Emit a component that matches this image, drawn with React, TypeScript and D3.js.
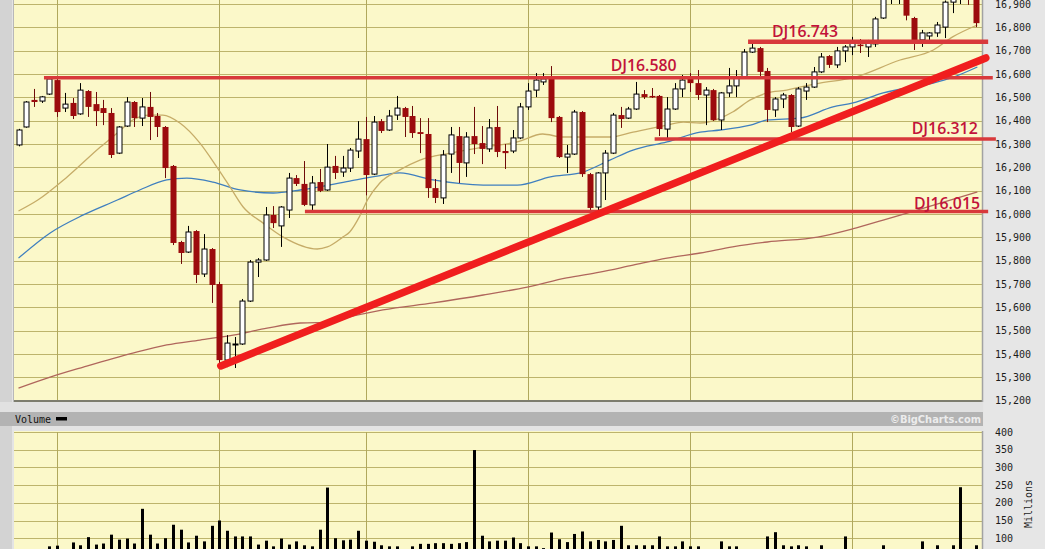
import React from "react";
import * as d3 from "d3";

const tradingDays = [
  "2013-12-24","2013-12-26","2013-12-27","2013-12-30","2013-12-31",
  "2014-01-02","2014-01-03","2014-01-06","2014-01-07","2014-01-08","2014-01-09","2014-01-10","2014-01-13","2014-01-14","2014-01-15","2014-01-16","2014-01-17","2014-01-21","2014-01-22","2014-01-23","2014-01-24","2014-01-27","2014-01-28","2014-01-29","2014-01-30","2014-01-31",
  "2014-02-03","2014-02-04","2014-02-05","2014-02-06","2014-02-07","2014-02-10","2014-02-11","2014-02-12","2014-02-13","2014-02-14","2014-02-18","2014-02-19","2014-02-20","2014-02-21","2014-02-24","2014-02-25","2014-02-26","2014-02-27","2014-02-28",
  "2014-03-03","2014-03-04","2014-03-05","2014-03-06","2014-03-07","2014-03-10","2014-03-11","2014-03-12","2014-03-13","2014-03-14","2014-03-17","2014-03-18","2014-03-19","2014-03-20","2014-03-21","2014-03-24","2014-03-25","2014-03-26","2014-03-27","2014-03-28","2014-03-31",
  "2014-04-01","2014-04-02","2014-04-03","2014-04-04","2014-04-07","2014-04-08","2014-04-09","2014-04-10","2014-04-11","2014-04-14","2014-04-15","2014-04-16","2014-04-17","2014-04-21","2014-04-22","2014-04-23","2014-04-24","2014-04-25","2014-04-28","2014-04-29","2014-04-30",
  "2014-05-01","2014-05-02","2014-05-05","2014-05-06","2014-05-07","2014-05-08","2014-05-09","2014-05-12","2014-05-13","2014-05-14","2014-05-15","2014-05-16","2014-05-19","2014-05-20","2014-05-21","2014-05-22","2014-05-23","2014-05-27","2014-05-28","2014-05-29","2014-05-30",
  "2014-06-02","2014-06-03","2014-06-04","2014-06-05","2014-06-06","2014-06-09","2014-06-10","2014-06-11","2014-06-12","2014-06-13","2014-06-16","2014-06-17","2014-06-18","2014-06-19","2014-06-20","2014-06-23","2014-06-24",
];

const openValues = [
  16296,16373,16489,16484,16514,
  16574,16454,16476,16429,16527,16471,16454,16433,16261,16377,16480,16411,16459,16420,16373,16206,15880,15837,15927,15743,15850,
  15700,15374,15439,15443,15627,15794,15803,15996,15949,16017,16154,16129,16039,16137,16103,16206,16180,16197,16270,
  16321,16171,16398,16360,16424,16454,16420,16351,16343,16111,16069,16257,16334,16219,16334,16304,16279,16373,16270,16270,16326,
  16459,16531,16566,16587,16416,16244,16257,16437,16171,16030,16176,16261,16424,16411,16450,16514,16506,16506,16364,16450,16536,
  16579,16561,16510,16531,16403,16519,16549,16583,16694,16711,16613,16446,16493,16510,16377,16527,16544,16609,16677,16639,16699,
  16716,16726,16716,16729,16840,16925,16943,16940,16840,16746,16763,16776,16801,16908,16925,16947,16940,
];
const highValues = [
  16365,16484,16536,16506,16587,
  16583,16519,16497,16561,16531,16523,16489,16454,16377,16501,16484,16497,16523,16433,16377,16210,15885,15949,15931,15914,15854,
  15709,15481,15473,15636,15803,15811,16030,16034,16034,16176,16167,16227,16163,16193,16300,16249,16249,16283,16398,
  16416,16420,16407,16446,16506,16459,16463,16411,16411,16150,16274,16373,16373,16351,16459,16377,16407,16463,16300,16360,16476,
  16561,16604,16604,16634,16420,16296,16446,16441,16176,16180,16274,16433,16459,16459,16566,16531,16540,16510,16501,16561,16596,
  16604,16617,16544,16536,16523,16626,16617,16707,16733,16716,16626,16501,16519,16514,16544,16561,16630,16690,16681,16716,16724,
  16759,16750,16746,16845,16930,16970,16960,16945,16845,16789,16780,16823,16915,16950,16980,16960,16970,
];
const lowValues = [
  16290,16370,16459,16476,16510,
  16416,16437,16407,16425,16416,16377,16381,16240,16257,16373,16373,16377,16317,16330,16154,15867,15786,15833,15704,15730,15619,
  15353,15344,15340,15439,15623,15730,15799,15940,15859,15983,16120,16034,16017,16094,16099,16150,16159,16180,16240,
  16080,16167,16347,16356,16403,16330,16326,16261,16069,16047,16043,16176,16133,16159,16257,16214,16266,16244,16193,16261,16321,
  16446,16501,16553,16394,16240,16176,16253,16159,16013,16017,16060,16257,16369,16407,16446,16493,16497,16334,16321,16446,16501,
  16523,16489,16381,16399,16360,16501,16501,16579,16690,16591,16394,16416,16454,16351,16373,16489,16540,16604,16626,16626,16651,
  16681,16690,16673,16716,16836,16900,16900,16830,16703,16716,16746,16759,16754,16861,16900,16896,16801,
];
const closeValues = [
  16360,16480,16480,16502,16579,
  16437,16471,16420,16531,16459,16441,16433,16253,16373,16480,16411,16459,16416,16373,16197,15876,15833,15923,15739,15850,15696,
  15374,15447,15443,15627,15794,15803,15996,15961,16030,16154,16129,16039,16133,16099,16201,16176,16197,16274,16321,
  16167,16394,16356,16420,16454,16416,16347,16343,16111,16069,16253,16339,16219,16330,16300,16279,16369,16266,16261,16326,16459,
  16527,16574,16579,16411,16244,16257,16437,16171,16026,16176,16261,16424,16407,16450,16514,16501,16501,16364,16450,16536,16574,
  16561,16510,16531,16403,16519,16549,16583,16694,16711,16609,16446,16493,16510,16373,16536,16544,16609,16673,16639,16699,16716,
  16737,16722,16737,16836,16925,16943,16945,16850,16737,16776,16776,16810,16908,16925,16947,16937,16818,
];
const volumeMillions = [
  30,45,55,60,77,
  79,65,88,80,103,82,85,110,96,99,85,183,110,85,100,138,124,88,107,91,135,
  150,121,105,105,105,82,93,77,99,82,91,80,77,124,243,100,94,96,121,
  93,90,80,77,77,65,77,84,84,86,86,84,86,89,349,107,91,93,93,102,86,
  77,77,72,116,97,89,112,119,91,95,91,95,135,80,80,80,80,105,77,77,91,
  77,77,66,68,91,77,77,66,64,66,105,117,80,77,80,77,62,80,64,66,105,
  62,60,62,66,80,60,62,66,68,91,64,80,66,80,244,64,80,
];

// moving averages: [day index, value]
const ma20Points = [[0,16013],[2.5,16060],[6.3,16159],[10.6,16287],[12.8,16347],[14.8,16403],[17,16424],[18.7,16424],[20.9,16390],[23.5,16304],[25.7,16201],[27.4,16116],[29.1,16030],[31.7,15961],[34.3,15901],[38.7,15850],[40,15859],[42,15901],[42.9,15923],[44.2,15991],[45.2,16060],[46.8,16133],[49.4,16189],[52,16231],[55.9,16261],[60.2,16287],[64.6,16309],[67.9,16343],[70.5,16330],[73.1,16330],[76.6,16330],[79.6,16351],[84,16381],[86.1,16394],[88.3,16390],[90.9,16411],[92.5,16437],[94.8,16489],[97,16519],[99.5,16531],[101.2,16544],[103.8,16561],[108,16583],[114.2,16660],[118.5,16703],[121,16759],[124.2,16810]];
const ma50Points = [[0,15811],[4.1,15919],[8.4,15996],[12.8,16060],[15.7,16103],[19.2,16146],[21.8,16154],[25.2,16137],[28.7,16103],[33,16090],[36.5,16103],[42.9,16141],[47.2,16167],[49.4,16176],[53.7,16146],[60.2,16124],[64.6,16124],[68.9,16159],[73.1,16180],[76.6,16231],[79.6,16274],[84,16309],[88.3,16351],[90.9,16360],[94.8,16381],[97,16403],[101.2,16411],[105.5,16459],[108.1,16476],[112,16519],[118.5,16561],[120.8,16583],[124.2,16630]];
const ma200Points = [[0,15254],[4.1,15301],[8.4,15344],[14.8,15404],[19.2,15439],[23.5,15460],[27.8,15481],[32.2,15511],[36.5,15533],[40.7,15537],[42.9,15559],[47.2,15589],[53.7,15619],[60.2,15653],[65.9,15687],[71,15726],[75.3,15751],[79.6,15781],[84,15811],[88.3,15833],[92.5,15859],[97,15880],[103.5,15901],[108,15936],[112,15974],[115.1,16004],[119.4,16047],[124.2,16094]];

const monthStarts = ["2014-01-02","2014-02-03","2014-03-03","2014-04-01","2014-05-01","2014-06-02"];
const priceTicks = [15200,15300,15400,15500,15600,15700,15800,15900,16000,16100,16200,16300,16400,16500,16600,16700,16800,16900];
const volumeTicks = [100,150,200,250,300,350,400];

const levelLabels = ["DJ16.580","DJ16.743","DJ16.312","DJ16.015"];
const levelValues = [16584, 16738, 16321, 16011];
const levelFrom = [3.3, 94.5, 82.4, 37.1];
const levelTo = [126.2, 125.6, 126.6, 125.6];
const levelLabelAt = [76.7, 97.6, 115.7, 116];
const trendFrom = [26.2, 15349];
const trendTo = [125.3, 16669];

export default function App() {
  const W = 1045, H = 549;
  const plotL = 14, plotR = 982;
  const x = d3.scaleLinear().domain([0, tradingDays.length - 1]).range([18.5, 975.8]);
  const y = d3.scaleLinear().domain([15200, 16900]).range([400.7, 4]);
  const vy = d3.scaleLinear().domain([0, 400]).range([573.6, 432]);
  const fmt = d3.format(",");
  const line = d3.line<number[]>().x(d => x(d[0])).y(d => y(d[1])).curve(d3.curveMonotoneX);
  const dayIndex = (d: string) => tradingDays.indexOf(d);
  const labelOffsets = [-7, -5, -5, -2.5];
  const levelWidths = [3.5, 4.5, 3.5, 3.5];

  return (
    <svg width={W} height={H} style={{ position: "absolute", left: 0, top: 0, display: "block" }}>
      <rect x={0} y={0} width={W} height={H} fill="#e4e4e4" />
      <rect x={0} y={0} width={12} height={H} fill="#d3d3d3" />
      <rect x={plotR + 1.5} y={0} width={W - plotR} height={H} fill="#e6e6e6" />
      {/* volume header band */}
      <rect x={0} y={402} width={983} height={10} fill="#e1e1e1" />
      <rect x={0} y={412} width={983} height={14} fill="#b3b3b3" />

      {/* main plot */}
      <rect x={plotL} y={-20} width={plotR - plotL} height={420.7} fill="#fbf8c9" />
      {priceTicks.map(t => (
        <line key={"g" + t} x1={plotL} x2={plotR} y1={Math.round(y(t)) + 0.5} y2={Math.round(y(t)) + 0.5} stroke="#bdb46c" strokeWidth={1} />
      ))}
      {monthStarts.map(m => (
        <line key={"v" + m} x1={Math.round(x(dayIndex(m))) + 0.5} x2={Math.round(x(dayIndex(m))) + 0.5} y1={-20} y2={400} stroke="#b0a85c" strokeWidth={1} />
      ))}
      <line x1={plotL} x2={plotR} y1={401} y2={401} stroke="#7d7d6e" strokeWidth={2} />
      <line x1={plotR + 0.5} x2={plotR + 0.5} y1={0} y2={402} stroke="#a2a2a2" strokeWidth={1.5} />
      <line x1={plotL - 0.5} x2={plotL - 0.5} y1={0} y2={402} stroke="#b8b8b8" strokeWidth={1} />

      {/* moving averages */}
      <path d={line(ma200Points) || ""} fill="none" stroke="#b0665c" strokeWidth={1.3} />
      <path d={line(ma50Points) || ""} fill="none" stroke="#3f7fbf" strokeWidth={1.3} />
      <path d={line(ma20Points) || ""} fill="none" stroke="#c6ac68" strokeWidth={1.3} />

      {/* candles */}
      {tradingDays.map((d, i) => {
        const o = openValues[i], h = highValues[i], l = lowValues[i], c = closeValues[i];
        const cx = Math.round(x(i));
        const up = c >= o;
        if (up) {
          const top = y(c), bot = y(o);
          return (
            <g key={d}>
              <line x1={cx + 0.5} x2={cx + 0.5} y1={y(h)} y2={y(l)} stroke="#000" strokeWidth={1} />
              <rect x={cx - 2} y={top} width={5} height={Math.max(1, bot - top)} fill="#ffffff" stroke="#000" strokeWidth={1} />
            </g>
          );
        }
        const top = y(o), bot = y(c);
        return (
          <g key={d}>
            <line x1={cx + 0.5} x2={cx + 0.5} y1={y(h)} y2={y(l)} stroke="#6e0a0a" strokeWidth={1} />
            <rect x={cx - 2.5} y={top} width={6} height={Math.max(1.5, bot - top)} fill="#9c0b0d" />
          </g>
        );
      })}

      {/* right axis labels */}
      {priceTicks.map(t => (
        <text key={"pt" + t} x={995} y={y(t)} dy="0.35em" fontFamily="'DejaVu Sans Mono', monospace" fontSize={10} fill="#1c1c1c">{fmt(t)}</text>
      ))}

      {/* support / resistance levels */}
      {levelValues.map((v, k) => (
        <line key={"lv" + k} x1={x(levelFrom[k])} x2={x(levelTo[k])} y1={y(v)} y2={y(v)} stroke="#d8393b" strokeWidth={levelWidths[k]} />
      ))}
      <line x1={x(trendFrom[0])} y1={y(trendFrom[1])} x2={x(trendTo[0])} y2={y(trendTo[1])} stroke="#f01e1e" strokeWidth={7.5} strokeLinecap="round" />
      {levelLabels.map((t, k) => (
        <text key={"lt" + k} x={x(levelLabelAt[k])} y={y(levelValues[k]) + labelOffsets[k]} fill="#c2123a" fontFamily="'Open Sans', sans-serif" fontWeight={600} fontSize={16} textLength={66} lengthAdjust="spacingAndGlyphs">{t}</text>
      ))}

      <text x={15} y={422.5} fontFamily="'DejaVu Sans Mono', monospace" fontSize={10} fill="#111">Volume</text>
      <rect x={56} y={417} width={11} height={3.5} fill="#000" />
      <text x={890} y={423} fontFamily="'DejaVu Sans', sans-serif" fontWeight="bold" fontSize={10} fill="#ececec" textLength={91} lengthAdjust="spacingAndGlyphs">©BigCharts.com</text>

      {/* volume panel */}
      <rect x={plotL} y={431} width={plotR - plotL} height={H - 431} fill="#fbf8c9" />
      {volumeTicks.map(t => (
        <line key={"vg" + t} x1={plotL} x2={plotR} y1={Math.round(vy(t)) + 0.5} y2={Math.round(vy(t)) + 0.5} stroke="#bdb46c" strokeWidth={1} />
      ))}
      {monthStarts.map(m => (
        <line key={"vv" + m} x1={Math.round(x(dayIndex(m))) + 0.5} x2={Math.round(x(dayIndex(m))) + 0.5} y1={432} y2={H} stroke="#b0a85c" strokeWidth={1} />
      ))}
      <line x1={plotR + 0.5} x2={plotR + 0.5} y1={431} y2={H} stroke="#a2a2a2" strokeWidth={1.5} />
      {volumeMillions.map((v, i) => (
        <rect key={"vb" + i} x={Math.round(x(i)) - 1} y={vy(v)} width={3} height={vy(0) - vy(v)} fill="#000" />
      ))}
      {volumeTicks.map(t => (
        <text key={"vt" + t} x={995} y={vy(t)} dy="0.35em" fontFamily="'DejaVu Sans Mono', monospace" fontSize={10} fill="#1c1c1c">{t}</text>
      ))}
      <text transform="translate(1032,504) rotate(-90)" textAnchor="middle" fontFamily="'DejaVu Sans Mono', monospace" fontSize={10} fill="#1c1c1c">Millions</text>
    </svg>
  );
}
